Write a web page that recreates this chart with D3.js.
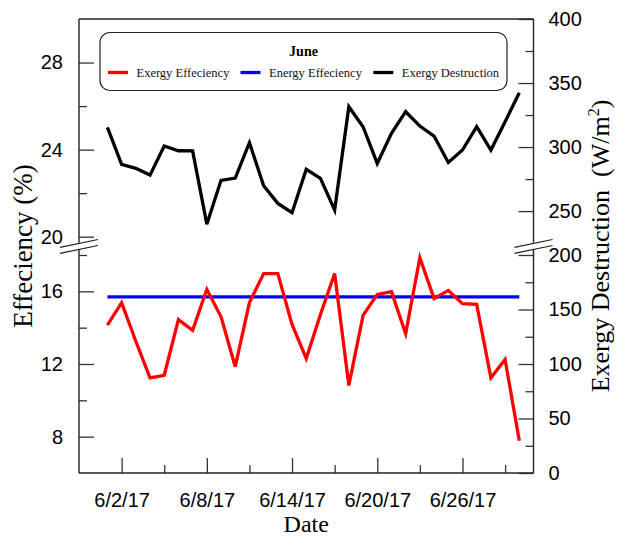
<!DOCTYPE html>
<html><head><meta charset="utf-8">
<script src="https://cdn.jsdelivr.net/npm/d3@7"></script>
<style>html,body{margin:0;padding:0;background:#fff;} svg{display:block;}</style>
</head><body><svg id="chart" width="617" height="536"></svg>
<script>
// ---------- data ----------
const days = [1,2,3,4,5,6,7,8,9,10,11,12,13,14,15,16,17,18,19,20,21,22,23,24,25,26,27,28,29,30];
const exergyEfficiency = [14.14,15.38,13.25,11.24,11.38,14.44,13.85,16.11,14.6,11.85,15.38,16.98,16.98,14.18,12.3,14.73,16.98,10.82,14.68,15.83,15.98,13.67,17.85,15.6,16.05,15.32,15.28,11.24,12.25,7.78];
const energyEfficiency = [15.7,15.7,15.7,15.7,15.7,15.7,15.7,15.7,15.7,15.7,15.7,15.7,15.7,15.7,15.7,15.7,15.7,15.7,15.7,15.7,15.7,15.7,15.7,15.7,15.7,15.7,15.7,15.7,15.7,15.7];
const exergyDestruction = [315.4,286.5,283.4,278.1,300.8,297.1,297,239.8,274,275.8,303.4,269.8,256,248.7,282.6,275.5,250.8,331.5,315.9,287.2,310.7,327.6,316.4,308.6,288,297.7,315.9,297.7,319.8,342.4];
const seriesNames = ["Exergy Effeciency","Energy Effeciency","Exergy Destruction"];
const seriesColors = ["#ff0000","#0000ff","#000000"];
const legendTitle = "June";
const majorTickLabels = ["6/2/17","6/8/17","6/14/17","6/20/17","6/26/17"];
const minorTickLabels = ["6/5/17","6/11/17","6/17/17","6/23/17","6/29/17"];
const leftUpperTicks = [20,24,28], leftUpperMinor = [22,26];
const leftLowerTicks = [8,12,16], leftLowerMinor = [10,14,18];
const rightUpperTicks = [250,300,350,400], rightUpperMinor = [275,325,375];
const rightLowerTicks = [0,50,100,150,200], rightLowerMinor = [25,75,125,175];
const xTitle = "Date", yLeftTitle = "Effeciency (%)";

// ---------- layout ----------
const L = 79, R = 533.5, T = 19, B = 473, UB = 236.7, LT = 255;
const svg = d3.select("#chart");
const parseT = d3.timeParse("%m/%d/%y");
const fmtT = d3.timeFormat("%-m/%-d/%y");
const dates = days.map(d => new Date(2017, 5, d));

const x = d3.scaleTime().domain([new Date(2017,4,30), new Date(2017,6,1)]).range([L, R]);
const yLU = d3.scaleLinear().domain([20,30]).range([UB, T]);
const yLL = d3.scaleLinear().domain([6,18]).range([B, LT]);
const yRU = d3.scaleLinear().domain([230,400]).range([UB, T]);
const yRL = d3.scaleLinear().domain([0,200]).range([B, LT]);

const tickFont = "'Liberation Sans', Arial, sans-serif";
const serif = "'Liberation Serif', 'Times New Roman', serif";

function styleAxis(g){
  g.select(".domain").remove();
  g.selectAll(".tick line").attr("stroke","#333").attr("stroke-width",1.3);
  g.selectAll(".tick text").attr("font-family",tickFont).attr("font-size","20px").attr("fill","#000");
}
function drawAxis(gen, tf, major, minor, pad){
  svg.append("g").attr("transform",tf)
    .call(gen().tickValues(major).tickSize(-15).tickSizeOuter(0).tickPadding(pad)).call(styleAxis);
  svg.append("g").attr("transform",tf)
    .call(gen().tickValues(minor).tickSize(-8).tickSizeOuter(0).tickFormat(()=>"")).call(styleAxis);
}
drawAxis(() => d3.axisLeft(yLU), `translate(${L},0)`, leftUpperTicks, leftUpperMinor, 16);
drawAxis(() => d3.axisLeft(yLL), `translate(${L},0)`, leftLowerTicks, leftLowerMinor, 16);
drawAxis(() => d3.axisRight(yRU), `translate(${R},0)`, rightUpperTicks, rightUpperMinor, 15);
drawAxis(() => d3.axisRight(yRL), `translate(${R},0)`, rightLowerTicks, rightLowerMinor, 15);
drawAxis(() => d3.axisBottom(x).tickFormat(fmtT), `translate(0,${B})`,
  majorTickLabels.map(parseT), minorTickLabels.map(parseT), 20);

// frame lines with break gaps
const frame = svg.append("g").attr("stroke","#222").attr("stroke-width",1.4).attr("fill","none");
[[L,T,R,T],[L,B,R,B],[L,T,L,UB+6],[L,LT-6,L,B],[R,T,R,UB+6],[R,LT-6,R,B]].forEach(s=>{
  frame.append("line").attr("x1",s[0]).attr("y1",s[1]).attr("x2",s[2]).attr("y2",s[3]);
});
// break marks
const brk = svg.append("g").attr("stroke","#222").attr("stroke-width",1.2);
[L, R].forEach(cx => {
  [0, 6].forEach(off => {
    brk.append("line").attr("x1",cx-19).attr("y1",247.3+off).attr("x2",cx+19).attr("y2",239.5+off);
  });
});

// series lines
const lineLow = d3.line().x((d,i)=>x(dates[i])).y(d=>yLL(d));
const lineUp = d3.line().x((d,i)=>x(dates[i])).y(d=>yRU(d));
svg.append("path").datum(exergyDestruction).attr("d",lineUp)
  .attr("fill","none").attr("stroke",seriesColors[2]).attr("stroke-width",3.3).attr("stroke-linejoin","miter");
svg.append("path").datum(energyEfficiency).attr("d",lineLow)
  .attr("fill","none").attr("stroke",seriesColors[1]).attr("stroke-width",3.3);
svg.append("path").datum(exergyEfficiency).attr("d",lineLow)
  .attr("fill","none").attr("stroke",seriesColors[0]).attr("stroke-width",3.3).attr("stroke-linejoin","miter");

// axis titles
svg.append("text").attr("x",(L+R)/2).attr("y",532).attr("text-anchor","middle")
  .attr("font-family",serif).attr("font-size","24px").text(xTitle);
svg.append("text").attr("transform",`translate(32,${(T+B)/2}) rotate(-90)`).attr("text-anchor","middle")
  .attr("font-family",serif).attr("font-size","27px").text(yLeftTitle);
const rt = svg.append("text").attr("transform",`translate(609,${(T+B)/2}) rotate(-90)`).attr("text-anchor","middle")
  .attr("font-family",serif).attr("font-size","26px");
rt.append("tspan").text("Exergy Destruction\u00a0 (W/m");
rt.append("tspan").attr("font-size","16px").attr("dy","-10").text("2");
rt.append("tspan").attr("dy","10").text(")");

// legend
const lg = svg.append("g");
lg.append("rect").attr("x",100).attr("y",32.5).attr("width",407).attr("height",58).attr("rx",10)
  .attr("fill","#fff").attr("stroke","#222").attr("stroke-width",1.2);
lg.append("text").attr("x",303.5).attr("y",56).attr("text-anchor","middle").attr("font-family",serif)
  .attr("font-weight","bold").attr("font-size","14px").text(legendTitle);
const itemX = [108, 240.5, 373.3];
seriesNames.forEach((n,i)=>{
  lg.append("line").attr("x1",itemX[i]).attr("x2",itemX[i]+20).attr("y1",72.5).attr("y2",72.5)
    .attr("stroke",seriesColors[i]).attr("stroke-width",3.3);
  lg.append("text").attr("x",itemX[i]+28.5).attr("y",76.8).attr("font-family",serif)
    .attr("font-size","12.5px").attr("fill","#111").text(n);
});
</script></body></html>
